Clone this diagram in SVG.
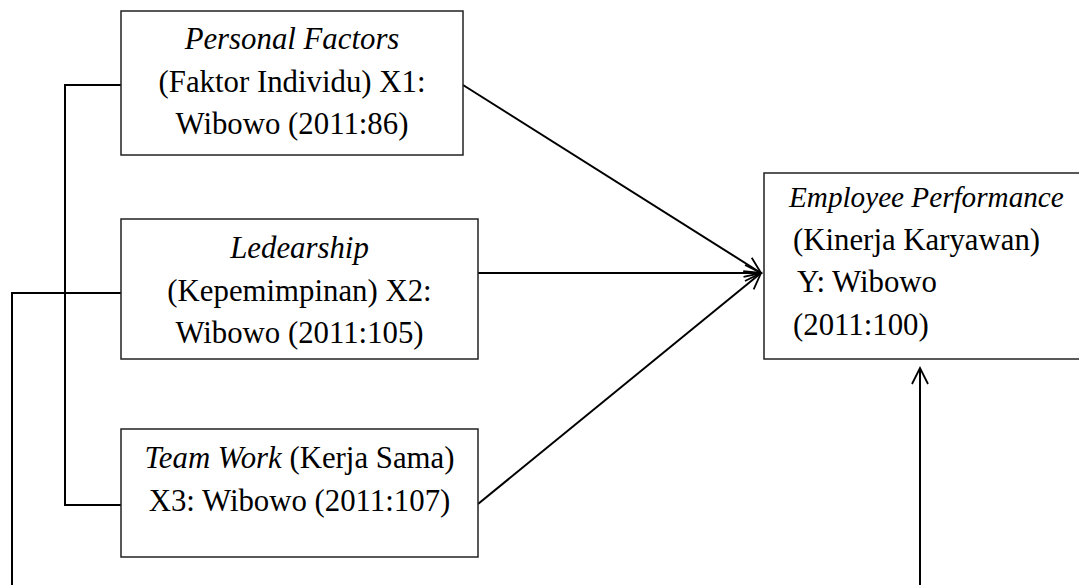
<svg xmlns="http://www.w3.org/2000/svg" width="1079" height="585" viewBox="0 0 1079 585">
<style>
.box{fill:#fff;stroke:#222;stroke-width:1.5}
.t{font-family:"Liberation Serif","Times New Roman",serif;font-size:30.8px;fill:#000}
.c{text-anchor:middle}
.i{font-style:italic}
.ln{fill:none;stroke:#000;stroke-width:2}
</style>
<defs>
<marker id="ah" markerUnits="userSpaceOnUse" markerWidth="24" markerHeight="24" refX="17" refY="9" orient="auto">
<path d="M1,1 L17,9 L1,17" fill="none" stroke="#000" stroke-width="1.8"/>
</marker>
</defs>
<rect width="1079" height="585" fill="#fff"/>
<g id="connectors">
<path class="ln" d="M121,85 H65 V505 H121"/>
<path class="ln" d="M121,293 H12 V585"/>
<path class="ln" d="M463,85 L761,273" marker-end="url(#ah)"/>
<path class="ln" d="M478,273 L761,273" marker-end="url(#ah)"/>
<path class="ln" d="M478,504 L761,273" marker-end="url(#ah)"/>
<path class="ln" d="M920,585 V368" marker-end="url(#ah)"/>
</g>
<g id="x1">
<rect class="box" x="121" y="11" width="342" height="144"/>
<text class="t c i" x="292" y="49">Personal Factors</text>
<text class="t c" x="292" y="92">(Faktor Individu) X1:</text>
<text class="t c" x="292" y="134">Wibowo (2011:86)</text>
</g>
<g id="x2">
<rect class="box" x="121" y="219" width="357" height="140"/>
<text class="t c i" x="299.5" y="258">Ledearship</text>
<text class="t c" x="299.5" y="301">(Kepemimpinan) X2:</text>
<text class="t c" x="299.5" y="343">Wibowo (2011:105)</text>
</g>
<g id="x3">
<rect class="box" x="121" y="429" width="357" height="128"/>
<text class="t c" x="299.5" y="468"><tspan class="i">Team Work</tspan> (Kerja Sama)</text>
<text class="t c" x="299.5" y="511">X3: Wibowo (2011:107)</text>
</g>
<g id="y">
<rect class="box" x="764" y="173" width="330" height="186"/>
<text class="t i" x="789" y="207" style="font-size:29.2px">Employee Performance</text>
<text class="t" x="793" y="250">(Kinerja Karyawan)</text>
<text class="t" x="797" y="292">Y: Wibowo</text>
<text class="t" x="793" y="335">(2011:100)</text>
</g>
</svg>
